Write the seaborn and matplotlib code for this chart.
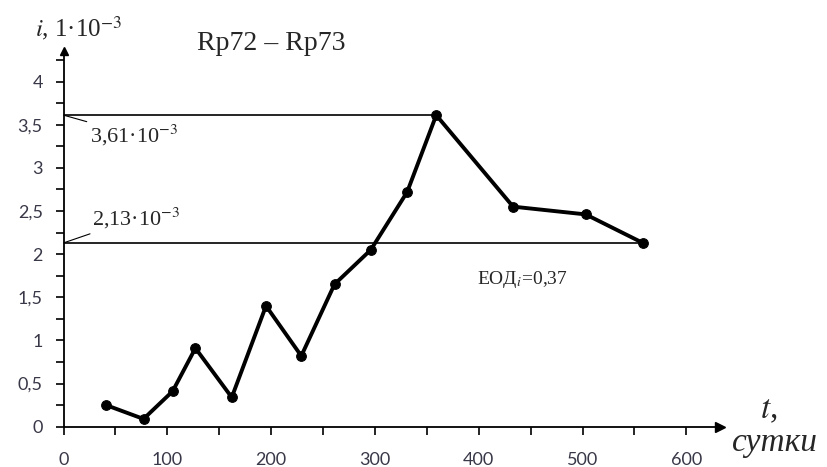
import numpy as np
import pandas as pd
import matplotlib
matplotlib.use("Agg")
import matplotlib.pyplot as plt
import seaborn as sns
from matplotlib.ticker import MultipleLocator, FuncFormatter

# data
t_days = [41, 77, 105, 127, 162, 195, 229, 261, 296, 331, 359, 433, 503, 558]
i_vals = [0.25, 0.09, 0.41, 0.91, 0.34, 1.40, 0.82, 1.65, 2.05, 2.72, 3.61, 2.55, 2.46, 2.13]
i_max = 3.61
i_last = 2.13
x_ticks = [0, 100, 200, 300, 400, 500, 600]
y_ticks = [0, 0.5, 1, 1.5, 2, 2.5, 3, 3.5, 4]

df = pd.DataFrame({"t": t_days, "i": i_vals})

sns.set_style("white")
plt.rcParams["font.family"] = ["Liberation Serif", "DejaVu Serif"]
plt.rcParams["mathtext.fontset"] = "stix"

fig = plt.figure(figsize=(8.28, 4.67), dpi=100)
ax = fig.add_axes([63.6 / 828, 40.3 / 467, 656 / 828, 375.4 / 467])

# reference lines, drawn from the axis to the points they mark
ax.hlines(i_max, 0, t_days[i_vals.index(i_max)], color="black", lw=1.2)
ax.hlines(i_last, 0, t_days[-1], color="black", lw=1.2)

sns.lineplot(data=df, x="t", y="i", ax=ax, color="black", lw=2.8,
             marker="o", markersize=7, markeredgecolor="black",
             estimator=None, sort=False)

ax.set_xlim(0, 632)
ax.set_ylim(0, 4.35)

for s in ["top", "right"]:
    ax.spines[s].set_visible(False)
for s in ["left", "bottom"]:
    ax.spines[s].set_color("black")
    ax.spines[s].set_linewidth(1.3)

ax.xaxis.set_major_locator(plt.FixedLocator(x_ticks))
ax.xaxis.set_minor_locator(MultipleLocator(50))
ax.yaxis.set_major_locator(plt.FixedLocator(y_ticks))
ax.yaxis.set_minor_locator(MultipleLocator(0.25))
ax.yaxis.set_major_formatter(FuncFormatter(lambda v, p: f"{v:g}".replace(".", ",")))
ax.tick_params(which="both", direction="out", length=6, width=1.2, color="black",
               bottom=True, left=True)
ax.tick_params(axis="y", which="major", labelsize=13, labelcolor="#383848", pad=9)
ax.tick_params(axis="x", which="major", labelsize=13, labelcolor="#383848", pad=12)
for lab in ax.get_xticklabels() + ax.get_yticklabels():
    lab.set_fontfamily("Lato")
ax.set_xlabel("")
ax.set_ylabel("")

# arrow heads on the axes
ax.plot(1, 0, marker=">", color="black", markersize=7, transform=ax.get_yaxis_transform(), clip_on=False)
ax.plot(0, 1, marker="^", color="black", markersize=6, transform=ax.get_xaxis_transform(), clip_on=False)

# axis captions and title
fig.text(35 / 828, 1 - 28 / 467, r"$i$, 1·10$^{-3}$", fontsize=18, va="center", ha="left")
fig.text(271 / 828, 1 - 44 / 467, "Rp72 – Rp73", fontsize=20, va="center", ha="center")
fig.text(769 / 828, 1 - 410 / 467, r"$t$,", fontsize=24, va="center", ha="center")
fig.text(775 / 828, 1 - 443 / 467, "сутки", fontsize=24, style="italic", va="center", ha="center")

# value callouts
ax.annotate("3,61·10$^{-3}$", xy=(0, i_max), xytext=(90, 467 - 135), textcoords="figure pixels",
            fontsize=16, va="center", ha="left",
            arrowprops=dict(arrowstyle="-", color="black", lw=0.8, shrinkA=0, shrinkB=0))
ax.annotate("2,13·10$^{-3}$", xy=(0, i_last), xytext=(92, 467 - 218), textcoords="figure pixels",
            fontsize=16, va="center", ha="left",
            arrowprops=dict(arrowstyle="-", color="black", lw=0.8, shrinkA=0, shrinkB=0))
ax.text(398, 1.7, "ЕОД$_i$=0,37", fontsize=14, va="center", ha="left")

fig.savefig("out.png", dpi=100)
